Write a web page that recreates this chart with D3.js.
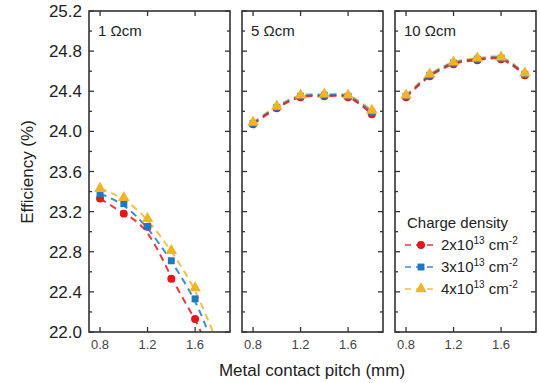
<!DOCTYPE html>
<html>
<head>
<meta charset="utf-8">
<script src="https://cdn.jsdelivr.net/npm/d3@7"></script>
<style>
  body { margin: 0; background: #fff; }
  text { font-family: "Liberation Sans", Arial, sans-serif; fill: #222; }
</style>
</head>
<body>
<div id="chart"></div>
<script>
// Data
const pitch = [0.8, 1.0, 1.2, 1.4, 1.6, 1.8];
const panelLabels = ['1 \u03A9cm', '5 \u03A9cm', '10 \u03A9cm'];
const seriesNames = ['2x10', '3x10', '4x10'];

// 1 Ohm cm (no point at 1.8 mm; red 1.2 sits behind the blue square)
const eff1_2e13 = [23.33, 23.18, 23.05, 22.53, 22.13, null];
const eff1_3e13 = [23.38, 23.28, 23.05, 22.71, 22.33, null];
const eff1_4e13 = [23.43, 23.34, 23.13, 22.81, 22.44, null];
// where the dashed fits leave the axis at 22.0 %
const fitEnd1 = [1.65, 1.71, 1.75];

// 5 Ohm cm
const eff5_2e13 = [24.07, 24.23, 24.34, 24.35, 24.34, 24.17];
const eff5_3e13 = [24.08, 24.24, 24.35, 24.36, 24.35, 24.19];
const eff5_4e13 = [24.09, 24.25, 24.36, 24.37, 24.36, 24.21];

// 10 Ohm cm
const eff10_2e13 = [24.34, 24.55, 24.67, 24.71, 24.72, 24.56];
const eff10_3e13 = [24.35, 24.56, 24.68, 24.72, 24.73, 24.57];
const eff10_4e13 = [24.36, 24.57, 24.69, 24.73, 24.74, 24.58];

const yTicks = [22.0, 22.4, 22.8, 23.2, 23.6, 24.0, 24.4, 24.8, 25.2];
const xTicks = [0.8, 1.2, 1.6];

const colors = ['#e3171c', '#1f78c1', '#f0b429'];
const shapes = [d3.symbolCircle, d3.symbolSquare, d3.symbolTriangle];
const shapeSize = [50, 48, 58];

const panels = [
  { series: [eff1_2e13, eff1_3e13, eff1_4e13], fitEnd: fitEnd1, curve: d3.curveBasis },
  { series: [eff5_2e13, eff5_3e13, eff5_4e13], curve: d3.curveCatmullRom.alpha(0.5) },
  { series: [eff10_2e13, eff10_3e13, eff10_4e13], curve: d3.curveCatmullRom.alpha(0.5) }
];

const W = 540, H = 383;
const plotTop = 11, plotBottom = 332, pw = 141, lefts = [89, 242, 395];

const svg = d3.select('#chart').append('svg')
  .attr('width', W).attr('height', H);

const y = d3.scaleLinear().domain([22.0, 25.2]).range([plotBottom, plotTop]);
const yMinor = d3.range(22.0, 25.21, 0.2);

panels.forEach((p, pi) => {
  const x = d3.scaleLinear().domain([0.707, 1.894]).range([lefts[pi], lefts[pi] + pw]);
  const g = svg.append('g');

  g.append('clipPath').attr('id', 'clip' + pi)
    .append('rect').attr('x', lefts[pi]).attr('y', plotTop)
    .attr('width', pw).attr('height', plotBottom - plotTop);

  // ticks pointing inward on all four sides
  yMinor.forEach(v => {
    const major = yTicks.some(t => Math.abs(t - v) < 1e-6);
    const len = major ? 5 : 3;
    g.append('line').attr('x1', lefts[pi]).attr('x2', lefts[pi] + len)
      .attr('y1', y(v)).attr('y2', y(v)).attr('stroke', '#333').attr('stroke-width', 1.3);
    g.append('line').attr('x1', lefts[pi] + pw).attr('x2', lefts[pi] + pw - len)
      .attr('y1', y(v)).attr('y2', y(v)).attr('stroke', '#333').attr('stroke-width', 1.3);
  });
  xTicks.forEach(v => {
    g.append('line').attr('x1', x(v)).attr('x2', x(v))
      .attr('y1', plotBottom).attr('y2', plotBottom - 5).attr('stroke', '#333').attr('stroke-width', 1.3);
    g.append('line').attr('x1', x(v)).attr('x2', x(v))
      .attr('y1', plotTop).attr('y2', plotTop + 5).attr('stroke', '#333').attr('stroke-width', 1.3);
    g.append('text').attr('x', x(v)).attr('y', 349)
      .attr('text-anchor', 'middle').style('font-size', '13px').style('fill', '#444')
      .text(v.toFixed(1));
  });

  // dashed fit curves
  const line = d3.line()
    .x(d => x(d[0])).y(d => y(d[1]))
    .curve(p.curve);
  const plot = g.append('g').attr('clip-path', `url(#clip${pi})`);
  [2, 1, 0].forEach(si => {
    const pts = pitch.map((px, i) => [px, p.series[si][i]]).filter(d => d[1] != null);
    if (p.fitEnd) pts.push([p.fitEnd[si], 22.0]);
    plot.append('path').attr('d', line(pts))
      .attr('fill', 'none').attr('stroke', colors[si]).attr('stroke-width', 2)
      .attr('stroke-dasharray', '7,5').attr('opacity', 0.85);
  });
  [0, 1, 2].forEach(si => {
    pitch.forEach((px, i) => {
      const v = p.series[si][i];
      if (v == null) return;
      plot.append('path')
        .attr('d', d3.symbol().type(shapes[si]).size(shapeSize[si])())
        .attr('transform', `translate(${x(px)},${y(v)})`)
        .attr('fill', colors[si]);
    });
  });

  g.append('rect').attr('x', lefts[pi]).attr('y', plotTop)
    .attr('width', pw).attr('height', plotBottom - plotTop)
    .attr('fill', 'none').attr('stroke', '#333').attr('stroke-width', 1.6);

  g.append('text').attr('x', lefts[pi] + 9).attr('y', 36)
    .style('font-size', '15px').text(panelLabels[pi]);
});

// y tick labels
yTicks.forEach(v => {
  svg.append('text').attr('x', 82).attr('y', y(v) + 6)
    .attr('text-anchor', 'end').style('font-size', '17px').text(v.toFixed(1));
});

// axis titles
svg.append('text').attr('x', 312).attr('y', 376).attr('text-anchor', 'middle')
  .style('font-size', '17px').text('Metal contact pitch (mm)');
svg.append('text').attr('transform', 'translate(33,172) rotate(-90)')
  .attr('text-anchor', 'middle').style('font-size', '17px').text('Efficiency (%)');

// legend
const lg = svg.append('g').attr('transform', 'translate(405,228)');
lg.append('text').attr('x', 2).attr('y', 0).style('font-size', '15px').text('Charge density');
seriesNames.forEach((nm, si) => {
  const row = lg.append('g').attr('transform', `translate(0,${22 + si * 22})`);
  row.append('line').attr('x1', 0).attr('x2', 30).attr('y1', -5).attr('y2', -5)
    .attr('stroke', colors[si]).attr('stroke-width', 1.6).attr('stroke-dasharray', '6,5').attr('opacity', 0.85);
  row.append('path').attr('d', d3.symbol().type(shapes[si]).size(shapeSize[si])())
    .attr('transform', 'translate(16,-5)').attr('fill', colors[si]);
  const t = row.append('text').attr('x', 36).attr('y', 0).style('font-size', '15px');
  t.append('tspan').text(nm);
  t.append('tspan').attr('dy', -6).style('font-size', '10px').text('13');
  t.append('tspan').attr('dy', 6).text(' cm');
  t.append('tspan').attr('dy', -6).style('font-size', '10px').text('-2');
});
</script>
</body>
</html>
